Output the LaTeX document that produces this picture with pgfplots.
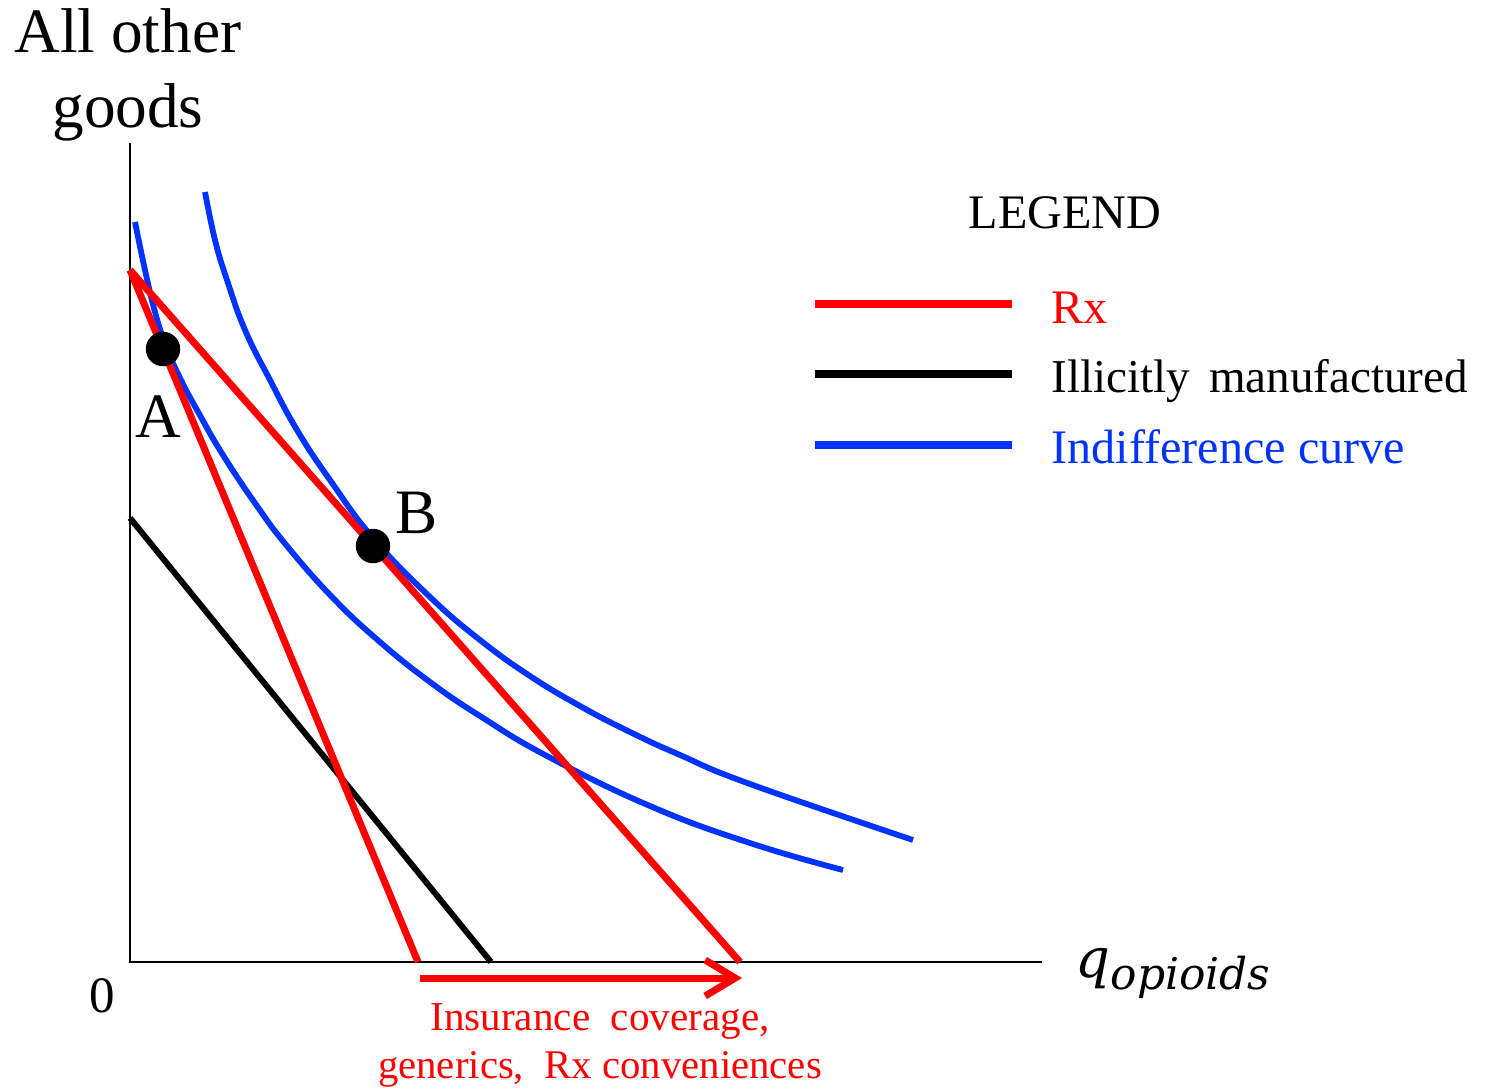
\documentclass[border=0pt]{standalone}
\usepackage{fontspec}
\setmainfont{Liberation Serif}
\newfontfamily\dvs{DejaVu Serif}
\usepackage{pgfplots}
\pgfplotsset{compat=1.18}
\usetikzlibrary{arrows.meta}
\definecolor{pred}{RGB}{255,0,0}
\definecolor{pblue}{RGB}{0,51,255}
\begin{document}
\begin{tikzpicture}
\begin{axis}[scale only axis, width=14.87cm, height=10.88cm,
  xmin=0, xmax=1487, ymin=0, ymax=1088, y dir=reverse,
  hide axis, clip=false]
\addplot[draw=none] coordinates {(0,0) (1487,1088)};
\coordinate (BL) at (0,1088);
\coordinate (TR) at (1487,0);
% axes
\addplot[black, line width=0.7pt] coordinates {(130,143) (130,962) (1042,962)};
% indifference curves
\addplot[pblue, line width=1.65pt, smooth, tension=0.75] coordinates {
 (135,222) (145,270) (155,312) (166,346) (180,378) (197,410) (223,455)
 (257,506) (287,546) (333,598) (380,642) (430,682) (480,716) (547,756)
 (650,806) (750,843) (843,870)};
\addplot[pblue, line width=1.65pt, smooth, tension=0.75] coordinates {
 (205,192) (215,240) (227,280) (245,330) (270,380) (297,430) (330,480)
 (373,538) (430,597) (480,640) (530,676) (580,706) (630,732) (680,755)
 (750,784) (913,840)};
% budget lines
\addplot[black, line width=1.7pt] coordinates {(130,518) (491,962)};
\addplot[pred, line width=2pt] coordinates {(130,270) (418,962)};
\addplot[pred, line width=2pt] coordinates {(130,270) (740,962)};
% arrow
\addplot[pred, line width=2pt, -{Straight Barb[length=3mm, width=3.6mm]}] coordinates {(420,978) (742,978)};
% points
\addplot[only marks, mark=*, mark size=4.7pt, black] coordinates {(163,349) (373,546)};
% legend lines
\addplot[pred, line width=2pt] coordinates {(815,304) (1012,304)};
\addplot[black, line width=2pt] coordinates {(815,374) (1012,374)};
\addplot[pblue, line width=2pt] coordinates {(815,445) (1012,445)};
% texts
\node[inner sep=0pt, anchor=base, font=\fontsize{18}{21}\selectfont] at (128,52) {All other};
\node[inner sep=0pt, anchor=base, font=\fontsize{18}{21}\selectfont] at (128,127) {goods};
\node[inner sep=0pt, anchor=base, font=\fontsize{18}{21}\selectfont] at (158,437) {A};
\node[inner sep=0pt, anchor=base, font=\fontsize{18}{21}\selectfont] at (417,533) {B};
\node[inner sep=0pt, anchor=base, font=\fontsize{14.5}{17}\selectfont] at (102,1012) {0};
\node[inner sep=0pt, anchor=base west] at (1075,977) {{\dvs\itshape\fontsize{15.5}{18}\selectfont q}\raisebox{-0.8ex}{\dvs\itshape\fontsize{12.5}{15}\selectfont opioids}};
\node[inner sep=0pt, anchor=base, font=\fontsize{13.7}{16}\selectfont] at (1065,228) {LEGEND};
\node[inner sep=0pt, anchor=base west, text=pred, font=\fontsize{13.7}{16}\selectfont] at (1051,323) {Rx};
\node[inner sep=0pt, anchor=base west, font=\fontsize{13.4}{16}\selectfont] at (1051,392) {Illicitly\hspace{0.4em}manufactured};
\node[inner sep=0pt, anchor=base west, text=pblue, font=\fontsize{13.7}{16}\selectfont] at (1051,463) {Indifference curve};
\node[inner sep=0pt, anchor=base, text=pred, font=\fontsize{11.7}{14}\selectfont] at (600,1030) {Insurance\ \ coverage,};
\node[inner sep=0pt, anchor=base, text=pred, font=\fontsize{11.6}{14}\selectfont] at (600,1078) {generics,\ \ Rx conveniences};
\end{axis}
\pgfresetboundingbox
\useasboundingbox (BL) rectangle (TR);
\end{tikzpicture}
\end{document}
